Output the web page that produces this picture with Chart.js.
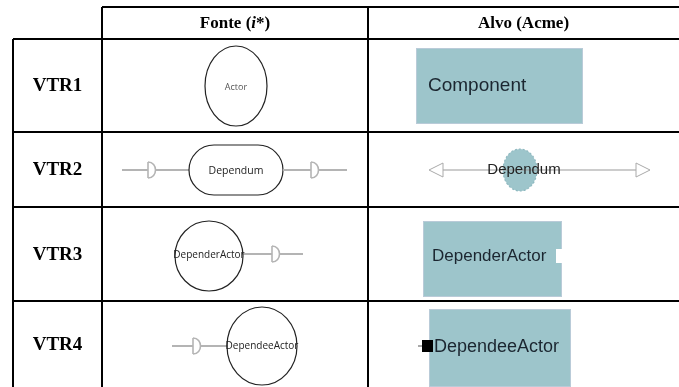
<!DOCTYPE html>
<html>
<head>
<meta charset="utf-8">
<script src="https://cdn.jsdelivr.net/npm/chart.js@4.4.0/dist/chart.umd.min.js"></script>
<style>
  html, body { margin: 0; padding: 0; background: #fff; }
  canvas { display: block; }
</style>
</head>
<body>
<canvas id="tableChart" width="679" height="387"></canvas>
<script>
// table content
const rowLabels = ['VTR1', 'VTR2', 'VTR3', 'VTR4'];
const colHeaders = ['Fonte (i*)', 'Alvo (Acme)'];
const sourceLabels = ['Actor', 'Dependum', 'DependerActor', 'DependeeActor'];
const targetLabels = ['Component', 'Dependum', 'DependerActor', 'DependeeActor'];

// layout (in scale units, same as pixels here)
const colEdges = [13, 102, 368, 679];
const rowEdges = [7, 39, 132, 207, 301, 387];
const teal = '#9dc5cb';
const grey = '#b4b4b4';

const tablePlugin = {
  id: 'tablePlugin',
  afterDraw(chart) {
    const ctx = chart.ctx;
    const sx = chart.scales.x, sy = chart.scales.y;
    const X = v => sx.getPixelForValue(v);
    const Y = v => sy.getPixelForValue(v);

    ctx.save();
    ctx.fillStyle = '#fff';
    ctx.fillRect(0, 0, chart.width, chart.height);

    // grid lines
    ctx.strokeStyle = '#000';
    ctx.lineWidth = 2;
    function line(x1, y1, x2, y2) {
      ctx.beginPath();
      ctx.moveTo(X(x1), Y(y1));
      ctx.lineTo(X(x2), Y(y2));
      ctx.stroke();
    }
    line(colEdges[1], rowEdges[0], colEdges[3], rowEdges[0]);
    for (let i = 1; i < rowEdges.length - 1; i++) {
      line(colEdges[0], rowEdges[i], colEdges[3], rowEdges[i]);
    }
    line(colEdges[0], rowEdges[1], colEdges[0], rowEdges[5]);
    line(colEdges[1], rowEdges[0], colEdges[1], rowEdges[5]);
    line(colEdges[2], rowEdges[0], colEdges[2], rowEdges[5]);

    // header
    ctx.fillStyle = '#000';
    ctx.textBaseline = 'middle';
    const hy = Y((rowEdges[0] + rowEdges[1]) / 2 + 1);
    const c2 = (colEdges[1] + colEdges[2]) / 2;
    const c3 = (colEdges[2] + colEdges[3]) / 2;
    // "Fonte (i*)" with italic i
    const parts = [['Fonte (', 'bold 17px "Liberation Serif"'], ['i', 'italic bold 17px "Liberation Serif"'], ['*)', 'bold 17px "Liberation Serif"']];
    let tw = 0;
    parts.forEach(p => { ctx.font = p[1]; tw += ctx.measureText(p[0]).width; });
    let px = X(c2) - tw / 2;
    ctx.textAlign = 'left';
    parts.forEach(p => { ctx.font = p[1]; ctx.fillText(p[0], px, hy); px += ctx.measureText(p[0]).width; });
    ctx.textAlign = 'center';
    ctx.font = 'bold 17px "Liberation Serif"';
    ctx.fillText(colHeaders[1], X(c3), hy);

    // row labels
    ctx.font = 'bold 19px "Liberation Serif"';
    rowLabels.forEach((lab, i) => {
      const cy = (rowEdges[i + 1] + rowEdges[i + 2]) / 2;
      ctx.fillText(lab, X((colEdges[0] + colEdges[1]) / 2), Y(cy + 1));
    });

    // helpers for diagrams
    function ellipse(cx, cy, rx, ry, fill, stroke, dash) {
      ctx.beginPath();
      ctx.ellipse(X(cx), Y(cy), rx, ry, 0, 0, Math.PI * 2);
      if (fill) { ctx.fillStyle = fill; ctx.fill(); }
      if (stroke) {
        ctx.strokeStyle = stroke; ctx.lineWidth = 1.2;
        ctx.setLineDash(dash || []);
        ctx.stroke();
        ctx.setLineDash([]);
      }
    }
    function greyLine(x1, x2, y) {
      ctx.strokeStyle = grey; ctx.lineWidth = 2;
      ctx.beginPath(); ctx.moveTo(X(x1), Y(y)); ctx.lineTo(X(x2), Y(y)); ctx.stroke();
    }
    function dShape(x, y) {
      ctx.strokeStyle = grey; ctx.lineWidth = 1.6;
      ctx.beginPath();
      ctx.moveTo(X(x), Y(y - 8));
      ctx.lineTo(X(x), Y(y + 8));
      ctx.stroke();
      ctx.beginPath();
      ctx.moveTo(X(x), Y(y - 8));
      ctx.bezierCurveTo(X(x + 10), Y(y - 8), X(x + 10), Y(y + 8), X(x), Y(y + 8));
      ctx.stroke();
    }
    function smallText(t, x, y, size, color) {
      ctx.fillStyle = color;
      ctx.font = size + 'px "Open Sans"';
      ctx.textAlign = 'center';
      ctx.textBaseline = 'middle';
      ctx.fillText(t, X(x), Y(y));
    }
    function box(x1, y1, x2, y2) {
      ctx.fillStyle = teal;
      ctx.fillRect(X(x1), Y(y1), X(x2) - X(x1), Y(y2) - Y(y1));
      ctx.strokeStyle = '#b9cbd8'; ctx.lineWidth = 1;
      ctx.strokeRect(X(x1) + 0.5, Y(y1) + 0.5, X(x2) - X(x1) - 1, Y(y2) - Y(y1) - 1);
    }
    function bigText(t, x, y, size) {
      ctx.fillStyle = '#1b2630';
      ctx.font = size + 'px "Liberation Sans"';
      ctx.textAlign = 'left';
      ctx.textBaseline = 'middle';
      ctx.fillText(t, X(x), Y(y));
    }

    // VTR1
    ellipse(236, 86, 31, 40, null, '#222');
    smallText(sourceLabels[0], 236, 87, 9, '#555');
    box(416, 48, 583, 124);
    bigText(targetLabels[0], 428, 86, 19);

    // VTR2 source
    greyLine(122, 148, 170);
    dShape(148, 170);
    greyLine(156, 196, 170);
    ctx.strokeStyle = '#222'; ctx.lineWidth = 1.2;
    ctx.beginPath();
    ctx.moveTo(X(214), Y(145));
    ctx.lineTo(X(258), Y(145));
    ctx.arc(X(258), Y(170), 25, -Math.PI / 2, Math.PI / 2);
    ctx.lineTo(X(214), Y(195));
    ctx.arc(X(214), Y(170), 25, Math.PI / 2, Math.PI * 1.5);
    ctx.closePath();
    ctx.fillStyle = '#fff'; ctx.fill(); ctx.stroke();
    smallText(sourceLabels[1], 236, 171, 10.5, '#222');
    greyLine(283, 311, 170);
    dShape(311, 170);
    greyLine(319, 347, 170);

    // VTR2 target
    ellipse(520, 170, 17, 21, teal, '#8fb9c0', [2, 2]);
    ctx.strokeStyle = '#999'; ctx.lineWidth = 1;
    ctx.beginPath(); ctx.moveTo(X(443), Y(170)); ctx.lineTo(X(636), Y(170)); ctx.stroke();
    ctx.strokeStyle = '#aaa';
    ctx.beginPath();
    ctx.moveTo(X(443), Y(163)); ctx.lineTo(X(429), Y(170)); ctx.lineTo(X(443), Y(177)); ctx.closePath(); ctx.stroke();
    ctx.beginPath();
    ctx.moveTo(X(636), Y(163)); ctx.lineTo(X(650), Y(170)); ctx.lineTo(X(636), Y(177)); ctx.closePath(); ctx.stroke();
    ctx.fillStyle = '#222';
    ctx.font = '15px "Liberation Sans"';
    ctx.textAlign = 'center'; ctx.textBaseline = 'middle';
    ctx.fillText(targetLabels[1], X(524), Y(170));

    // VTR3 source
    greyLine(243, 272, 254);
    dShape(272, 254);
    greyLine(280, 303, 254);
    ellipse(209, 256, 34, 35, null, '#222');
    smallText(sourceLabels[2], 209, 255, 10, '#222');

    // VTR3 target
    box(423, 221, 562, 297);
    ctx.fillStyle = '#fff';
    ctx.fillRect(X(556), Y(249), 12, 14);
    bigText(targetLabels[2], 432, 256, 17);

    // VTR4 source
    greyLine(172, 193, 346);
    dShape(193, 346);
    greyLine(201, 228, 346);
    ellipse(262, 346, 35, 39, null, '#222');
    smallText(sourceLabels[3], 262, 346, 10, '#222');

    // VTR4 target
    box(429, 309, 571, 387);
    ctx.strokeStyle = '#555'; ctx.lineWidth = 1;
    ctx.beginPath(); ctx.moveTo(X(418), Y(346)); ctx.lineTo(X(424), Y(346)); ctx.stroke();
    ctx.fillStyle = '#000';
    ctx.fillRect(X(422), Y(340), 11, 12);
    bigText(targetLabels[3], 434, 347, 18);

    ctx.restore();
  }
};

new Chart(document.getElementById('tableChart').getContext('2d'), {
  type: 'scatter',
  data: { datasets: [{ data: [] }] },
  options: {
    responsive: false,
    animation: false,
    layout: { padding: 0 },
    plugins: { legend: { display: false }, tooltip: { enabled: false } },
    scales: {
      x: { type: 'linear', min: 0, max: 679, display: false },
      y: { type: 'linear', min: 0, max: 387, reverse: true, display: false }
    }
  },
  plugins: [tablePlugin]
});
</script>
</body>
</html>
